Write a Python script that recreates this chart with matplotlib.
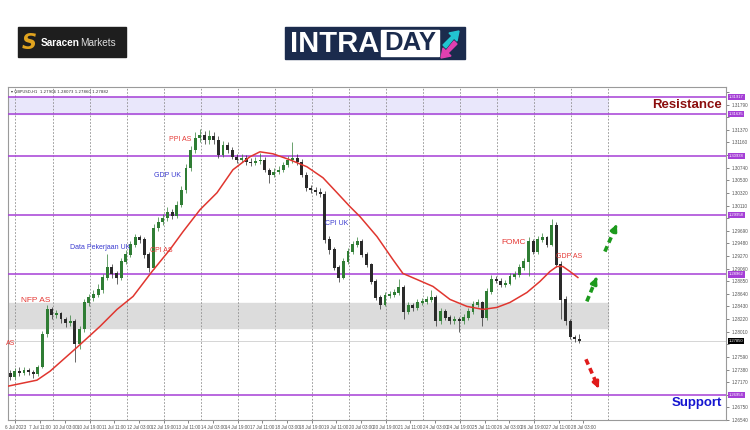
import numpy as np
import matplotlib.pyplot as plt
from matplotlib.patches import Rectangle, Polygon

plt.rc('font', family=['Liberation Sans', 'DejaVu Sans'])

# ---- data (GBPUSD H1, drawn as 3-hour candles) ----
first_open = 1.2732
closes = [1.27252, 1.27352, 1.27319, 1.27369, 1.27335, 1.27302, 1.27418, 1.27966, 1.28381, 1.28282,
          1.28315, 1.28215, 1.28149, 1.28182, 1.27800, 1.28049, 1.28497, 1.28580, 1.28630, 1.28713,
          1.28912, 1.29078, 1.28979, 1.28912, 1.29178, 1.29294, 1.29460, 1.29576, 1.29543, 1.29294,
          1.29078, 1.29742, 1.29842, 1.29908, 1.30008, 1.29942, 1.30124, 1.30373, 1.30738, 1.31037,
          1.31236, 1.31286, 1.31203, 1.31270, 1.31203, 1.30954, 1.31120, 1.31037, 1.30921, 1.30871,
          1.30904, 1.30838, 1.30821, 1.30855, 1.30871, 1.30705, 1.30622, 1.30672, 1.30705, 1.30788,
          1.30871, 1.30904, 1.30838, 1.30622, 1.30406, 1.30373, 1.30340, 1.30307, 1.29543, 1.29377,
          1.29078, 1.28912, 1.29178, 1.29344, 1.29460, 1.29510, 1.29294, 1.29128, 1.28846, 1.28580,
          1.28464, 1.28614, 1.28630, 1.28663, 1.28746, 1.28348, 1.28448, 1.28414, 1.28497, 1.28514,
          1.28547, 1.28580, 1.28182, 1.28348, 1.28248, 1.28182, 1.28215, 1.28182, 1.28248, 1.28348,
          1.28464, 1.28497, 1.28248, 1.28680, 1.28879, 1.28860, 1.28796, 1.28813, 1.28929, 1.28962,
          1.29078, 1.29178, 1.29510, 1.29344, 1.29543, 1.29576, 1.29460, 1.29792, 1.29128, 1.28547,
          1.28182, 1.27916, 1.27883, 1.27850]
highs = [1.2738, 1.2740, 1.2742, 1.2742, 1.2741, 1.2738, 1.2746, 1.2802, 1.2845, 1.2842,
         1.2837, 1.2834, 1.2825, 1.2828, 1.2822, 1.2810, 1.2855, 1.2864, 1.2870, 1.2880,
         1.2897, 1.2930, 1.2913, 1.2902, 1.2924, 1.2937, 1.2952, 1.2964, 1.2962, 1.2959,
         1.2934, 1.2980, 1.2992, 1.2997, 1.3008, 1.3005, 1.3018, 1.3043, 1.3080, 1.3110,
         1.3133, 1.3138, 1.3135, 1.3136, 1.3134, 1.3126, 1.3118, 1.3117, 1.3108, 1.3097,
         1.3096, 1.3095, 1.3090, 1.3092, 1.3098, 1.3091, 1.3074, 1.3073, 1.3076, 1.3084,
         1.3093, 1.3117, 1.3096, 1.3088, 1.3066, 1.3045, 1.3042, 1.3041, 1.3035, 1.2960,
         1.2942, 1.2912, 1.2923, 1.2940, 1.2952, 1.2958, 1.2955, 1.2934, 1.2916, 1.2888,
         1.2862, 1.2867, 1.2869, 1.2872, 1.2888, 1.2878, 1.2850, 1.2849, 1.2855, 1.2857,
         1.2860, 1.2871, 1.2862, 1.2840, 1.2838, 1.2829, 1.2827, 1.2826, 1.2830, 1.2840,
         1.2852, 1.2856, 1.2852, 1.2873, 1.2895, 1.2894, 1.2890, 1.2887, 1.2898, 1.2902,
         1.2913, 1.2924, 1.2958, 1.2955, 1.2960, 1.2965, 1.2961, 1.2988, 1.2983, 1.2918,
         1.2860, 1.2822, 1.2796, 1.2797]
lows = [1.2720, 1.2722, 1.2728, 1.2729, 1.2729, 1.2724, 1.2727, 1.2740, 1.2792, 1.2822,
        1.2823, 1.2816, 1.2808, 1.2810, 1.2750, 1.2772, 1.2800, 1.2843, 1.2852, 1.2858,
        1.2866, 1.2887, 1.2890, 1.2880, 1.2887, 1.2913, 1.2925, 1.2942, 1.2948, 1.2924,
        1.2901, 1.2905, 1.2968, 1.2978, 1.2985, 1.2988, 1.2990, 1.3008, 1.3032, 1.3068,
        1.3098, 1.3117, 1.3113, 1.3114, 1.3113, 1.3090, 1.3092, 1.3098, 1.3088, 1.3082,
        1.3083, 1.3079, 1.3077, 1.3078, 1.3080, 1.3066, 1.3049, 1.3058, 1.3063, 1.3066,
        1.3075, 1.3082, 1.3079, 1.3058, 1.3036, 1.3032, 1.3028, 1.3026, 1.2948, 1.2930,
        1.2903, 1.2883, 1.2888, 1.2914, 1.2931, 1.2942, 1.2925, 1.2908, 1.2880, 1.2853,
        1.2838, 1.2843, 1.2857, 1.2858, 1.2862, 1.2822, 1.2830, 1.2836, 1.2837, 1.2845,
        1.2847, 1.2850, 1.2810, 1.2814, 1.2820, 1.2813, 1.2814, 1.2800, 1.2814, 1.2821,
        1.2831, 1.2842, 1.2810, 1.2821, 1.2864, 1.2882, 1.2875, 1.2876, 1.2878, 1.2889,
        1.2892, 1.2904, 1.2893, 1.2930, 1.2931, 1.2950, 1.2942, 1.2943, 1.2908, 1.2822,
        1.2812, 1.2788, 1.2784, 1.2782]

# moving average, x in H1 bars
ma_x = [-4.9, 13.9, 22.4, 39.9, 54.8, 65.8, 76.2, 88.5, 100.1, 108.6, 119.6, 130.6, 140.9,
        151.9, 158.4, 166.9, 177.9, 188.9, 199.3, 208.4, 216.8, 223.3, 234.3, 244.6, 251.1,
        260.2, 270.6, 281.6, 292.6, 303.0, 312.0, 320.5, 331.5, 339.9, 346.4, 350.9, 354.8,
        359.4, 364.5]
ma_y = [1.27103, 1.27203, 1.27352, 1.27750, 1.28099, 1.28381, 1.28597, 1.29012, 1.29377,
        1.29676, 1.30041, 1.30323, 1.30705, 1.30921, 1.31004, 1.30971, 1.30871, 1.30755,
        1.30572, 1.30323, 1.30091, 1.29925, 1.29593, 1.29211, 1.28979, 1.28879, 1.28763,
        1.28547, 1.28431, 1.28381, 1.28414, 1.28497, 1.28663, 1.28846, 1.29012, 1.29095,
        1.29095, 1.29012, 1.28912]

levels = [1.31917, 1.31635, 1.30938, 1.29958, 1.28962, 1.26954]
resistance_band = (1.31635, 1.31917)
support_zone = (1.28066, 1.28481)
last_price = 1.27850

time_labels = ['6 Jul 2023', '7 Jul 11:00', '10 Jul 03:00', '10 Jul 19:00', '11 Jul 11:00',
               '12 Jul 03:00', '12 Jul 19:00', '13 Jul 11:00', '14 Jul 03:00', '14 Jul 19:00',
               '17 Jul 11:00', '18 Jul 03:00', '18 Jul 19:00', '19 Jul 11:00', '20 Jul 03:00',
               '20 Jul 19:00', '21 Jul 11:00', '24 Jul 03:00', '24 Jul 19:00', '25 Jul 11:00',
               '26 Jul 03:00', '26 Jul 19:00', '27 Jul 11:00', '28 Jul 03:00']

events = [('PPI AS', 106.6, 1.31203, 'r'), ('GDP UK', 98.8, 1.30606, 'b'),
          ('Data Pekerjaan UK', 54.8, 1.29410, 'b'), ('CPI AS', 94.3, 1.29361, 'r'),
          ('NFP AS', 13.3, 1.28531, 'r'), ('AS', -3.0, 1.27817, 'r'),
          ('CPI UK', 208.4, 1.29809, 'b'), ('FOMC', 323.1, 1.29493, 'r'),
          ('GDP AS', 358.7, 1.29261, 'r')]

# projected moves (start bar, start price, end bar, end price)
up_arrows = [(370.3, 1.28514, 377.5, 1.28962), (382.0, 1.29344, 390.5, 1.29842)]
down_arrows = [(369.7, 1.27551, 378.8, 1.27020)]

# ---- figure ----
fig = plt.figure(figsize=(7.5, 4.3), dpi=100)
fig.patch.set_facecolor('white')

# logos on an overlay in pixel coords
lo = fig.add_axes((0, 0, 1, 1))
lo.set_xlim(0, 750)
lo.set_ylim(430, 0)
lo.axis('off')
lo.add_patch(Rectangle((18, 27), 108, 30, color='#1e1e1e'))
lo.text(29, 43, 'S', color='#e0a31f', fontsize=15, fontweight='bold', style='italic',
        ha='center', va='center', family='DejaVu Sans')
lo.text(41, 43, 'Saracen', color='white', fontsize=7.2, fontweight='bold', va='center')
lo.text(80, 43, 'Markets', color='#dddddd', fontsize=7.2, va='center')

lo.add_patch(Rectangle((285, 27), 180, 32, color='#1b2b4d'))
lo.text(290, 43.5, 'INTRA', color='white', fontsize=21, fontweight='bold', va='center')
lo.add_patch(Rectangle((381, 30), 58, 26, color='white'))
lo.text(410, 43.5, 'DAY', color='#1b2b4d', fontsize=18.5, fontweight='bold', ha='center', va='center')
lo.add_patch(Polygon([(443, 45), (452, 36), (449, 33), (459, 31), (457, 41), (454, 38), (446, 48)],
                     color='#22c4d0'))
lo.add_patch(Polygon([(457, 44), (448, 53), (451, 56), (441, 58), (443, 48), (446, 51), (454, 41)],
                     color='#e040b0'))

# chart
ax = fig.add_axes((8 / 750, 10 / 430, 718 / 750, 333 / 430))
ax.set_zorder(2)
ax.set_facecolor('white')
ax.set_xlim(-4.86, 460.5)
ax.set_ylim(1.26555, 1.32083)

for s in ax.spines.values():
    s.set_color('#9a9a9a')
    s.set_linewidth(0.8)

grid_x = np.arange(0, 385, 24)
for gx in grid_x:
    ax.axvline(gx, color='#8c8c8c', lw=0.6, ls=(0, (2, 2)), zorder=1)

ax.axhspan(*resistance_band, xmin=0, xmax=(384 + 4.86) / 465.36, color='#e9e7fb', zorder=0)
ax.axhspan(*support_zone, xmin=0, xmax=(384 + 4.86) / 465.36, color='#dcdcdc', zorder=0)
for lv in levels:
    ax.axhline(lv, color='#a53fd6', lw=1.1, zorder=3)
ax.axhline(last_price, color='#cfcfcf', lw=0.6, zorder=1)

# candles
closes = np.array(closes)
opens = np.concatenate([[first_open], closes[:-1]])
xs = -3.5 + 3 * np.arange(len(closes))
up = closes >= opens
cols = np.where(up, '#2f7d34', '#2a2a2a')
ax.vlines(xs, lows, highs, colors=cols, lw=0.5, zorder=4)
ax.bar(xs, np.abs(closes - opens) + 0.00004, bottom=np.minimum(opens, closes) - 0.00002,
       width=1.9, color=cols, zorder=5)

ax.plot(ma_x, ma_y, color='#e0362f', lw=1.1, zorder=6)

# event labels
for txt, ex, ey, c in events:
    big = txt in ('NFP AS', 'FOMC')
    ax.text(ex, ey, txt, color='#e53935' if c == 'r' else '#3a3ad0',
            fontsize=6 if big else 5, ha='center', va='center', zorder=7)

ax.text(457.9, 1.31784, 'Resistance', color='#8b0d0d', fontsize=9.5, fontweight='bold',
        ha='right', va='center', zorder=7)
ax.text(457.9, 1.26821, 'Support', color='#1515d0', fontsize=9.5, fontweight='bold',
        ha='right', va='center', zorder=7)

for x0, y0, x1, y1 in up_arrows + down_arrows:
    c = '#1c9a1c' if y1 > y0 else '#e01b1b'
    fx = x0 + (x1 - x0) * 0.72
    fy = y0 + (y1 - y0) * 0.72
    ax.plot([x0, fx], [y0, fy], color=c, lw=2.6, ls=(0, (1.6, 1.1)), solid_capstyle='butt', zorder=7)
    ax.annotate('', xy=(x1, y1), xytext=(fx, fy),
                arrowprops=dict(arrowstyle='-|>', color=c, lw=2.2, mutation_scale=9), zorder=7)

ax.text(0.004, 0.992, '\u25be GBPUSD,H1  1.27906 1.28073 1.27860 1.27882', transform=ax.transAxes,
        fontsize=2.8, color='#333333', va='top', ha='left', family='DejaVu Sans')

# axes ticks (labels hidden under the level tags, as in the terminal)
ax.yaxis.tick_right()
yt = 1.2654 + 0.0021 * np.arange(27)
tags = levels + [last_price]
ax.set_yticks(yt)
ax.set_yticklabels(['' if min(abs(v - t) for t in tags) < 0.0009 else '%.5f' % v for v in yt])
ax.tick_params(axis='y', labelsize=3.3, colors='#555555', length=2, width=0.5, pad=2)
ax.set_xticks(16 * np.arange(len(time_labels)))
ax.set_xticklabels(time_labels)
ax.tick_params(axis='x', labelsize=3.3, colors='#555555', length=2, width=0.5, pad=1.5)

for t in tags:
    ax.annotate('%.5f' % t, xy=(1.0, t), xycoords=('axes fraction', 'data'), xytext=(2, 0),
                textcoords='offset points', fontsize=3, color='white', va='center', ha='left',
                bbox=dict(boxstyle='square,pad=0.25', fc='black' if t == last_price else '#a53fd6',
                          ec='none'), zorder=8, annotation_clip=False)

fig.savefig('out.png', dpi=100)
